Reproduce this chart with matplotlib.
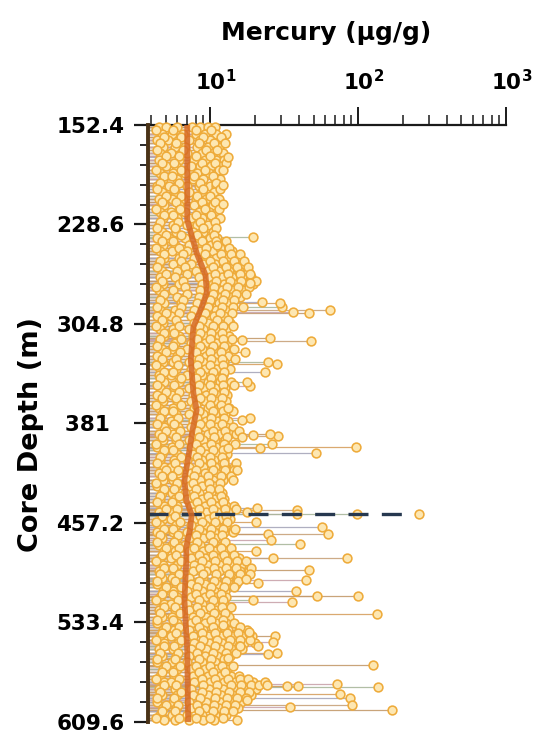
import numpy as np
import matplotlib
matplotlib.use("Agg")
import matplotlib.pyplot as plt
from matplotlib.ticker import FixedLocator, FixedFormatter, LogLocator, NullFormatter, MultipleLocator

plt.rcParams['font.family'] = ['DejaVu Sans']
plt.rcParams['mathtext.fontset'] = 'dejavusans'

# ---------------- data ----------------
title = "Mercury (µg/g)"
ylabel = "Core Depth (m)"
depth_ticks = [152.4, 228.6, 304.8, 381.0, 457.2, 533.4, 609.6]
depth_tick_labels = ["152.4", "228.6", "304.8", "381  ", "457.2", "533.4", "609.6"]
x_ticks = [10, 100, 1000]
x_tick_labels = [r"$\mathbf{10^{1}}$", r"$\mathbf{10^{2}}$", r"$\mathbf{10^{3}}$"]

# bulk samples (set A): depth levels (m) and Hg values (µg/g) at each level
bulk_depths = [154, 159, 164, 169, 174, 179, 184, 189, 194, 199, 204, 209, 214, 219, 224, 229, 234,
               239, 244, 249, 254, 259, 264, 269, 274, 279, 284, 289, 294, 299, 304, 309, 314, 319,
               324, 329, 334, 339, 344, 349, 354, 359, 364, 369, 374, 379, 384, 389, 394, 399, 404,
               409, 414, 419, 424, 429, 434, 439, 444, 449, 454, 459, 464, 469, 474, 479, 484, 489,
               494, 499, 504, 509, 514, 519, 524, 529, 534, 539, 544, 549, 554, 559, 564, 569, 574,
               579, 584, 589, 594, 599, 604, 608]
bulk_values = [
    [4.5, 5.0, 6.0, 7.5, 8.5, 9.6, 10.8],
    [4.7, 5.5, 6.6, 8.0, 9.2, 11.0, 12.8],
    [4.4, 5.2, 7.2, 8.6, 10.0, 12.0],
    [4.8, 5.8, 6.8, 8.2, 9.6, 11.4],
    [4.6, 5.4, 7.0, 8.8, 10.4, 12.2],
    [4.5, 6.2, 7.8, 9.2, 11.0, 12.4],
    [5.0, 5.9, 7.4, 8.6, 10.2, 11.8],
    [4.6, 5.6, 6.8, 8.2, 9.8, 11.2],
    [4.8, 6.0, 7.6, 9.0, 10.8, 11.6],
    [4.4, 5.3, 7.0, 8.4, 10.0, 11.0],
    [4.7, 5.8, 7.2, 8.8, 10.6],
    [4.5, 5.5, 6.6, 8.0, 9.4, 11.4],
    [4.9, 6.2, 7.8, 9.0, 10.4],
    [4.6, 5.4, 6.8, 8.4, 9.8],
    [4.8, 6.0, 7.4, 8.8, 10.4, 11.6],
    [4.5, 5.6, 7.0, 8.2, 9.6],
    [4.7, 5.9, 7.6, 9.0, 10.4],
    [4.4, 5.3, 6.8, 8.4, 10.0, 11.2],
    [4.8, 5.8, 7.2, 8.8, 10.2, 11.8],
    [4.6, 5.5, 7.0, 8.6, 10.4, 12.4, 14.0],
    [4.9, 6.2, 7.8, 9.4, 11.0, 13.0, 15.2],
    [4.5, 5.6, 7.4, 9.0, 10.8, 12.6, 14.6, 16.5],
    [4.7, 6.0, 8.0, 9.6, 11.4, 13.4, 15.6, 18.0],
    [4.6, 5.8, 8.4, 10.0, 12.0, 14.0, 16.4, 19.0],
    [4.8, 6.2, 8.8, 10.4, 12.4, 14.6, 17.2, 19.5],
    [4.5, 5.6, 8.6, 10.2, 12.0, 14.2, 16.8],
    [4.7, 6.0, 8.4, 10.0, 11.8, 13.8, 16.0],
    [4.9, 6.4, 8.2, 9.8, 11.4, 13.2],
    [4.6, 5.8, 7.8, 9.4, 11.0, 12.8],
    [4.4, 5.4, 7.4, 9.0, 10.6, 12.4],
    [4.8, 6.0, 7.8, 9.6, 11.2, 13.6],
    [4.6, 5.6, 7.2, 9.0, 10.8, 12.8],
    [4.9, 6.2, 7.6, 9.4, 11.4, 13.4],
    [4.5, 5.8, 7.4, 9.2, 11.0, 13.0],
    [4.7, 5.5, 7.0, 8.8, 10.6, 12.6, 14.4],
    [4.4, 6.0, 7.6, 9.4, 11.2, 13.2],
    [4.8, 5.6, 7.2, 9.0, 10.8, 12.4],
    [4.6, 5.9, 7.4, 9.2, 11.0, 13.6],
    [4.5, 5.4, 7.0, 8.8, 10.6, 12.2],
    [4.9, 6.2, 7.8, 9.6, 11.6, 13.8],
    [4.6, 5.7, 7.2, 9.0, 10.8, 12.6],
    [4.4, 5.5, 7.6, 9.4, 11.2, 13.0],
    [4.8, 6.0, 7.4, 9.2, 11.0, 12.8],
    [4.5, 5.6, 7.8, 9.6, 11.4, 13.4],
    [4.7, 5.9, 7.2, 9.0, 10.8, 12.6],
    [4.6, 5.4, 7.6, 9.4, 11.2, 13.2],
    [4.9, 6.1, 7.4, 9.2, 11.0, 12.8, 14.2],
    [4.5, 5.6, 7.8, 9.6, 11.4, 13.4, 15.0],
    [4.8, 5.9, 7.2, 9.0, 10.8, 12.6],
    [4.4, 5.5, 7.4, 9.2, 11.0, 12.8],
    [4.7, 6.0, 7.6, 9.4, 11.2, 13.0],
    [4.6, 5.7, 7.0, 8.8, 10.6, 12.4],
    [4.9, 5.4, 7.2, 9.0, 10.8, 12.6, 14.4],
    [4.5, 6.1, 7.4, 9.2, 11.0],
    [4.8, 5.6, 7.0, 8.6, 10.4, 12.2],
    [4.4, 5.9, 7.2, 8.8, 10.6],
    [4.7, 5.5, 6.8, 8.4, 10.2, 12.0],
    [4.6, 5.8, 7.0, 8.8, 10.6, 12.4],
    [4.9, 6.0, 7.4, 9.2, 11.0, 12.8, 14.6],
    [4.5, 5.6, 7.6, 9.4, 11.2, 13.2],
    [4.8, 5.4, 7.8, 9.6, 11.6, 13.6],
    [4.6, 5.9, 7.4, 9.2, 11.0, 12.8],
    [4.4, 5.6, 7.0, 8.8, 10.6, 12.4, 14.2],
    [4.7, 6.0, 7.2, 9.0, 10.8],
    [4.5, 5.5, 6.8, 8.6, 10.4, 12.2],
    [4.9, 5.8, 7.2, 9.0, 10.8, 12.8],
    [4.6, 5.4, 7.4, 9.2, 11.2, 13.4, 15.6],
    [4.8, 6.0, 7.8, 9.6, 11.6, 13.8, 16.2],
    [4.5, 5.7, 7.6, 9.4, 11.4, 13.6, 15.8, 18.2],
    [4.7, 5.5, 7.2, 9.0, 11.0, 13.2, 15.4, 17.6],
    [4.4, 5.9, 7.4, 9.2, 11.2, 13.4, 15.0],
    [4.8, 5.6, 7.0, 8.8, 10.6, 12.6],
    [4.6, 6.0, 7.4, 9.2, 11.0, 12.8],
    [4.9, 5.4, 7.0, 8.8, 10.6, 12.4],
    [4.5, 5.8, 7.2, 9.0, 10.8, 13.0],
    [4.7, 5.5, 7.6, 9.4, 11.2, 13.4],
    [4.4, 6.0, 7.4, 9.2, 11.0, 12.8, 14.6],
    [4.8, 5.7, 7.2, 9.0, 11.0, 13.2, 15.6, 17.8],
    [4.6, 5.4, 7.6, 9.6, 11.8, 14.2, 16.6, 19.2],
    [4.9, 6.1, 7.8, 9.8, 12.0, 14.6, 17.0, 20.0],
    [4.5, 5.6, 7.4, 9.4, 11.6, 14.0, 16.4],
    [4.7, 5.9, 7.2, 9.2, 11.2, 13.6],
    [4.4, 5.5, 7.0, 8.8, 10.8, 12.8],
    [4.8, 6.0, 7.4, 9.2, 11.0, 13.0],
    [4.6, 5.7, 7.6, 9.6, 11.6, 13.8, 15.6],
    [4.9, 5.4, 7.8, 10.0, 12.4, 14.8, 17.2, 19.6],
    [4.5, 5.8, 7.4, 9.8, 12.2, 14.6, 17.0, 20.5],
    [4.7, 6.0, 7.6, 9.6, 11.8, 14.2, 16.6, 19.0],
    [4.4, 5.6, 7.2, 9.4, 11.6, 14.0, 16.2],
    [4.8, 5.9, 7.4, 9.2, 11.4, 13.6, 15.4],
    [4.6, 5.5, 7.0, 8.8, 10.8, 12.8],
    [4.9, 5.8, 7.2, 9.0, 10.6],
]

# bulk samples (set B), between the set-A levels
bulk_depths_b = [156.5, 161.5, 166.5, 171.5, 176.5, 181.5, 186.5, 191.5, 196.5, 201.5, 206.5, 211.5,
                 216.5, 221.5, 226.5, 231.5, 236.5, 241.5, 246.5, 251.5, 256.5, 261.5, 266.5, 271.5,
                 276.5, 281.5, 286.5, 291.5, 296.5, 301.5, 306.5, 311.5, 316.5, 321.5, 326.5, 331.5,
                 336.5, 341.5, 346.5, 351.5, 356.5, 361.5, 366.5, 371.5, 376.5, 381.5, 386.5, 391.5,
                 396.5, 401.5, 406.5, 411.5, 416.5, 421.5, 426.5, 431.5, 436.5, 441.5, 446.5, 451.5,
                 456.5, 461.5, 466.5, 471.5, 476.5, 481.5, 486.5, 491.5, 496.5, 501.5, 506.5, 511.5,
                 516.5, 521.5, 526.5, 531.5, 536.5, 541.5, 546.5, 551.5, 556.5, 561.5, 566.5, 571.5,
                 576.5, 581.5, 586.5, 591.5, 596.5, 601.5, 606.5]
bulk_values_b = [
    [4.3, 5.6, 8.0, 10.2], [4.9, 6.4, 9.0, 11.8], [4.6, 5.9, 8.4, 10.6, 12.6],
    [4.4, 6.6, 9.4, 11.2], [5.0, 6.2, 8.0, 10.0], [4.7, 5.7, 8.8, 10.8, 12.8],
    [4.3, 6.4, 9.2, 11.4], [4.9, 5.5, 7.8, 10.4], [4.6, 6.2, 8.6, 11.0],
    [4.4, 5.7, 9.0, 11.6], [5.0, 6.4, 8.2, 10.0], [4.7, 5.9, 8.8, 10.8],
    [4.3, 6.3, 9.2, 11.4], [4.9, 5.6, 8.0, 10.2], [4.6, 6.1, 8.6, 10.8],
    [4.4, 5.8, 9.0, 11.0], [5.0, 6.4, 8.2, 10.6], [4.7, 5.6, 8.8, 11.0, 12.8],
    [4.3, 6.2, 9.4, 11.6, 13.4], [4.9, 6.6, 9.2, 11.8, 13.8, 16.0], [4.6, 6.4, 10.0, 12.2, 14.4, 17.0],
    [4.4, 6.8, 10.4, 12.8, 15.2, 18.0], [5.0, 7.0, 10.8, 13.2, 15.8, 18.6], [4.7, 6.6, 11.0, 13.6, 16.2, 20.5],
    [4.3, 6.8, 10.6, 13.0, 15.4, 18.4], [4.9, 7.0, 10.4, 12.6, 15.0, 17.4], [4.6, 6.6, 10.0, 12.2, 14.6],
    [4.4, 6.4, 9.6, 12.0, 14.2, 16.8], [5.0, 6.2, 9.2, 11.6, 14.0], [4.7, 5.9, 8.8, 11.2, 13.2],
    [4.3, 6.2, 8.4, 10.4, 12.2], [4.9, 5.7, 8.6, 10.2, 12.0], [4.6, 6.4, 8.2, 10.0, 12.2, 14.0],
    [4.4, 5.6, 8.6, 10.4, 12.4], [5.0, 6.3, 8.0, 10.0, 11.8], [4.7, 5.9, 8.4, 10.2, 12.0, 14.8],
    [4.3, 6.1, 8.2, 10.0, 12.2], [4.9, 5.6, 8.6, 10.4, 12.4], [4.6, 6.4, 8.0, 10.2, 12.0],
    [4.4, 5.7, 8.4, 10.0, 12.2, 14.6], [5.0, 6.2, 8.2, 10.4, 12.4], [4.7, 5.9, 8.6, 10.2, 12.0],
    [4.3, 6.4, 8.0, 10.0, 11.8], [4.9, 5.6, 8.4, 10.4, 12.2, 14.2], [4.6, 6.1, 8.2, 10.2, 12.4],
    [4.4, 5.7, 8.6, 10.0, 12.0], [5.0, 6.3, 8.2, 10.4, 12.6, 15.6], [4.7, 5.9, 8.4, 10.6, 13.0, 16.4],
    [4.3, 6.2, 8.0, 10.2, 12.4, 14.8], [4.9, 5.6, 8.6, 10.4, 12.2], [4.6, 6.4, 8.2, 10.0, 12.0],
    [4.4, 5.8, 8.4, 10.2, 12.4, 15.0], [5.0, 6.1, 8.0, 10.4, 12.6, 14.4], [4.7, 5.5, 7.8, 9.6, 11.8, 13.8],
    [4.3, 6.0, 7.6, 9.8, 11.6], [4.9, 5.7, 8.0, 10.0, 11.4], [4.6, 6.2, 7.8, 9.6, 11.8],
    [4.4, 5.5, 8.2, 10.2, 12.2], [5.0, 6.0, 8.4, 10.4, 12.6, 15.0], [4.7, 5.8, 8.6, 10.6, 12.8],
    [4.3, 6.3, 8.8, 10.8, 13.0], [4.9, 5.6, 8.4, 10.2, 12.2, 14.8], [4.6, 6.1, 8.0, 10.0, 12.0],
    [4.4, 5.7, 8.2, 10.4, 12.6], [5.0, 6.2, 7.8, 9.8, 11.8, 13.8], [4.7, 5.9, 8.4, 10.4, 12.4, 14.6],
    [4.3, 6.4, 8.8, 10.8, 13.0, 15.2, 17.4], [4.9, 5.6, 8.6, 10.6, 12.8, 15.0, 19.0], [4.6, 6.2, 9.0, 11.0, 13.4, 16.0, 18.6],
    [4.4, 5.8, 8.4, 10.6, 12.8, 15.4], [5.0, 6.4, 8.2, 10.2, 12.4, 14.4], [4.7, 5.6, 8.0, 10.0, 11.8],
    [4.3, 6.1, 8.4, 10.4, 12.2], [4.9, 5.8, 8.2, 10.0, 12.0, 13.8], [4.6, 6.3, 8.6, 10.6, 12.6],
    [4.4, 5.6, 8.0, 10.2, 12.2], [5.0, 6.2, 8.4, 10.4, 12.4, 16.0], [4.7, 5.9, 8.8, 10.8, 13.0, 15.4, 18.4],
    [4.3, 6.4, 9.0, 11.2, 13.6, 16.0, 18.6], [4.9, 5.7, 8.6, 10.8, 13.2, 15.6, 21.0], [4.6, 6.1, 8.2, 10.4, 12.8, 15.0],
    [4.4, 5.8, 8.4, 10.2, 12.4], [5.0, 6.3, 8.0, 10.0, 12.0, 14.2], [4.7, 5.6, 8.4, 10.4, 12.6],
    [4.3, 6.2, 8.8, 10.8, 13.2, 15.8, 18.0], [4.9, 5.9, 9.0, 11.2, 13.8, 16.2, 18.8, 21.5], [4.6, 6.4, 8.8, 11.0, 13.4, 15.8, 18.4],
    [4.4, 5.7, 8.6, 10.8, 13.0, 15.2, 17.6], [5.0, 6.1, 8.2, 10.6, 12.8, 14.8], [4.7, 5.8, 8.4, 10.4, 12.4, 14.2],
    [4.3, 6.2, 8.0, 10.0, 12.2],
]

# high-value samples (depth m, Hg µg/g)
peak_depths = [176.9, 186.9, 198.3, 212.9, 238.2, 244.3, 273.4, 294.1, 296.4, 295.6, 291.8, 288.7,
               288.0, 317.8, 315.5, 317.0, 333.9, 335.4, 341.5, 326.2, 306.3, 352.3, 349.2, 399.0,
               403.6, 390.6, 389.0, 389.8, 396.7, 399.8, 399.8, 416.6, 424.3, 376.8, 378.3, 369.1,
               445.7, 447.2, 448.8, 450.3, 450.3, 456.4, 460.2, 465.6, 465.6, 470.2, 473.3, 478.6,
               484.0, 484.0, 493.2, 500.8, 500.1, 503.1, 509.3, 513.1, 513.1, 517.7, 516.2, 526.9,
               535.3, 540.7, 543.7, 548.3, 551.4, 556.8, 557.5, 560.6, 566.0, 580.5, 582.8, 588.2,
               591.2, 596.6, 600.4, 598.1, 582.0, 582.0, 579.0, 581.3, 608.0, 592.8]
peak_values = [13.2, 12.2, 12.2, 12.2, 19.5, 11.2, 18.6, 64.7, 46.7, 36.4, 30.7, 29.7,
               22.4, 48.1, 25.4, 16.5, 24.6, 28.4, 23.5, 17.2, 14.3, 18.6, 17.8, 97.0,
               52.0, 28.8, 25.4, 19.5, 26.2, 21.8, 13.2, 15.2, 14.3, 18.6, 16.5, 13.2,
               20.8, 38.7, 17.8, 38.7, 98.0, 20.5, 57.1, 62.7, 24.6, 25.8, 40.5, 20.5,
               26.7, 84.3, 46.7, 44.5, 17.5, 21.1, 38.1, 52.9, 100.0, 35.8, 19.5, 134.0,
               12.2, 18.3, 27.5, 26.7, 15.9, 28.4, 24.6, 13.2, 126.0, 72.1, 136.0, 75.5,
               88.3, 91.1, 170.0, 34.7, 39.3, 33.1, 23.5, 24.2, 15.2, 17.8]

# maximum sample (dashed)
max_depth = 450.3
max_value = 260.0

# smoothed trend
trend_depths = [152.4, 186.9, 225.2, 250.4, 267.3, 281.1, 294.1, 307.1, 332.4, 357.6, 370.7,
                386.0, 401.3, 424.3, 439.6, 451.1, 462.6, 475.6, 485.5, 516.2, 554.5, 609.6]
trend_values = [7.0, 7.0, 7.0, 8.1, 9.3, 9.5, 8.6, 7.7, 7.4, 7.7, 8.1,
                7.6, 7.25, 6.7, 6.9, 7.5, 7.3, 6.9, 6.9, 6.7, 7.0, 7.1]

# ---------------- figure ----------------
W, H = 542, 738
fig = plt.figure(figsize=(W / 100, H / 100), dpi=100)
ax = fig.add_axes([148 / W, 1 - 722 / H, (506 - 148) / W, (722 - 125) / H])

xmin, xmax = 3.8, 1000
ax.set_xscale('log')
ax.set_xlim(xmin, xmax)
ax.set_ylim(609.6, 152.4)

d_all = []
v_all = []
for depths, values in ((bulk_depths, bulk_values), (bulk_depths_b, bulk_values_b)):
    for d, vals in zip(depths, values):
        for v in vals:
            d_all.append(d)
            v_all.append(v)
d_all += peak_depths
v_all += peak_values
d_all = np.array(d_all)
v_all = np.array(v_all)

stem_palette = ['#c49a6c', '#c9a3ab', '#a9b79b', '#d6a060', '#a7a6ba', '#c8a27a']
stem_colors = [stem_palette[i % len(stem_palette)] for i in range(len(d_all))]
ax.hlines(d_all, xmin, v_all, colors=stem_colors, linewidth=0.9, alpha=0.9, zorder=2)

# dashed max line
ax.hlines([max_depth], xmin, [max_value], colors='#26384f', linewidth=2.4,
          linestyles=(0, (6, 4)), zorder=4)

mk = dict(s=40, facecolor='#fde7b2', edgecolor='#eeab3a', linewidth=1.15, clip_on=False)
ax.scatter(v_all, d_all, zorder=3, **mk)
ax.scatter([max_value], [max_depth], zorder=5, **mk)

ax.plot(trend_values, trend_depths, color='#d66a24', linewidth=4.2, alpha=0.85,
        solid_capstyle='butt', zorder=6)

# spines
for s in ['right', 'bottom']:
    ax.spines[s].set_visible(False)
ax.spines['left'].set_color('#4a3317')
ax.spines['left'].set_linewidth(2.8)
ax.spines['left'].set_zorder(7)
ax.spines['top'].set_color('#1a1a1a')
ax.spines['top'].set_linewidth(1.6)

# x axis on top
ax.xaxis.tick_top()
ax.xaxis.set_major_locator(FixedLocator(x_ticks))
ax.xaxis.set_major_formatter(NullFormatter())
ax.xaxis.set_minor_locator(LogLocator(base=10, subs=np.arange(2, 10)))
ax.xaxis.set_minor_formatter(NullFormatter())
ax.tick_params(axis='x', which='major', direction='out', length=13, width=1.4, color='#1a1a1a')
ax.tick_params(axis='x', which='minor', direction='out', length=7, width=1.1, color='#1a1a1a')
for xt, lab in zip(x_ticks, x_tick_labels):
    ax.annotate(lab, xy=(xt, 1), xycoords=('data', 'axes fraction'),
                xytext=(-11, 25), textcoords='offset points', ha='left', va='baseline',
                fontsize=15.5, fontweight='bold', annotation_clip=False)

# y axis
ax.yaxis.set_major_locator(FixedLocator(depth_ticks))
ax.yaxis.set_major_formatter(FixedFormatter(depth_tick_labels))
ax.yaxis.set_minor_locator(MultipleLocator(15.24))
ax.tick_params(axis='y', which='major', direction='out', length=10, width=1.6,
               color='#1a1a1a', pad=7, labelsize=15.5)
ax.tick_params(axis='y', which='minor', direction='out', length=6, width=1.4, color='#2a2a2a')
for lab in ax.get_yticklabels():
    lab.set_fontweight('bold')

fig.text(326 / W, 1 - 40 / H, title, ha='center', va='baseline', fontsize=18, fontweight='bold')
fig.text(31 / W, 1 - 435 / H, ylabel, ha='center', va='center', rotation=90,
         fontsize=19.5, fontweight='bold')

fig.savefig('out.png', dpi=100)
